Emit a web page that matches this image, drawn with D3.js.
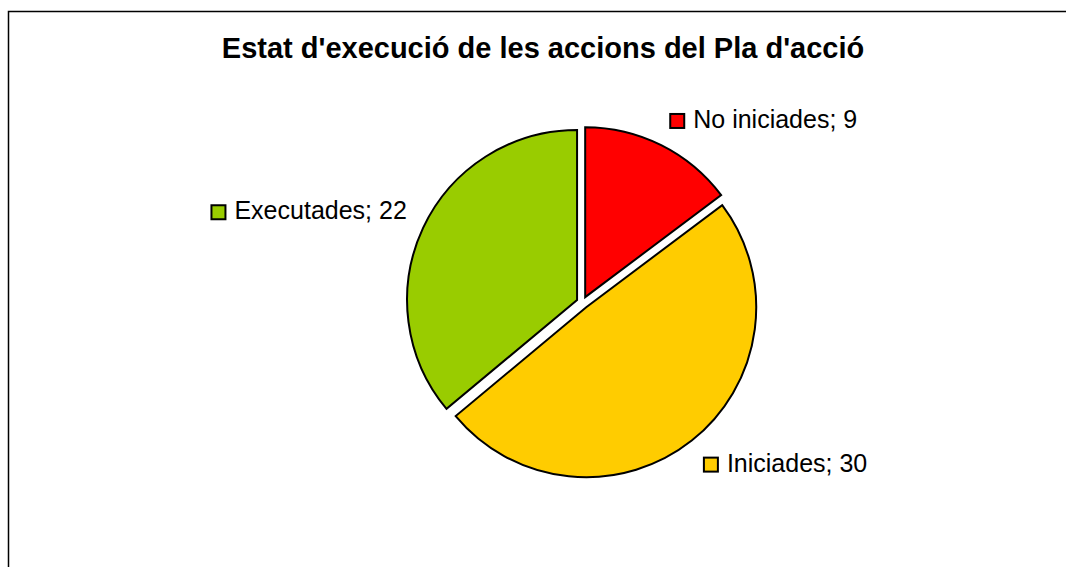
<!DOCTYPE html>
<html>
<head>
<meta charset="utf-8">
<script src="https://cdn.jsdelivr.net/npm/d3@7"></script>
<style>
  html, body { margin: 0; padding: 0; background: #fff; overflow: hidden; }
  svg { display: block; }
  text { font-family: Arial, "Liberation Sans", sans-serif; fill: #000; }
</style>
</head>
<body>
<svg id="chart" width="1066" height="567"></svg>
<script>
const title = "Estat d'execució de les accions del Pla d'acció";
const categories = ["No iniciades", "Iniciades", "Executades"];
const values = [9, 30, 22];
const colors = ["#FF0000", "#FFCC00", "#99CC00"];

const W = 1066, H = 567;
const svg = d3.select("#chart");

// chart frame (extends beyond the viewport on right and bottom)
svg.append("rect")
  .attr("x", 8.5).attr("y", 11.5)
  .attr("width", 1100).attr("height", 600)
  .attr("fill", "#fff").attr("stroke", "#000").attr("stroke-width", 1.5);

// title
svg.append("text")
  .attr("x", 543).attr("y", 58)
  .attr("text-anchor", "middle")
  .attr("font-size", 29).attr("font-weight", "bold")
  .text(title);

const cx = 582.5, cy = 302.5, r = 170, explode = 6, labelR = 194;

const data = categories.map((c, i) => ({ name: c, value: values[i], color: colors[i] }));
const pie = d3.pie().sort(null).value(d => d.value).startAngle(0).endAngle(2 * Math.PI);
const arcs = pie(data);
const arc = d3.arc().innerRadius(0).outerRadius(r);

const g = svg.append("g").attr("transform", `translate(${cx},${cy})`);

g.selectAll("path.slice")
  .data(arcs)
  .join("path")
  .attr("class", "slice")
  .attr("d", arc)
  .attr("transform", d => {
    const a = (d.startAngle + d.endAngle) / 2;
    return `translate(${Math.sin(a) * explode},${-Math.cos(a) * explode})`;
  })
  .attr("fill", d => d.data.color)
  .attr("stroke", "#000")
  .attr("stroke-width", 2)
  .attr("stroke-linejoin", "miter");

// data labels with legend key
arcs.forEach(d => {
  const a = (d.startAngle + d.endAngle) / 2;
  const ax = Math.sin(a) * labelR, ay = -Math.cos(a) * labelR;
  const lg = g.append("g");
  const t = lg.append("text")
    .attr("font-size", 25)
    .attr("x", 24).attr("y", 0)
    .text(`${d.data.name}; ${d.data.value}`);
  lg.append("rect")
    .attr("x", 1).attr("y", -14)
    .attr("width", 14).attr("height", 14)
    .attr("fill", d.data.color)
    .attr("stroke", "#000").attr("stroke-width", 2);
  const w = 24 + t.node().getComputedTextLength();
  const left = Math.sin(a) >= 0 ? ax : ax - w;
  const baseline = Math.cos(a) >= 0 ? ay - 1 : ay + 17;
  lg.attr("transform", `translate(${left},${baseline})`);
});
</script>
</body>
</html>
